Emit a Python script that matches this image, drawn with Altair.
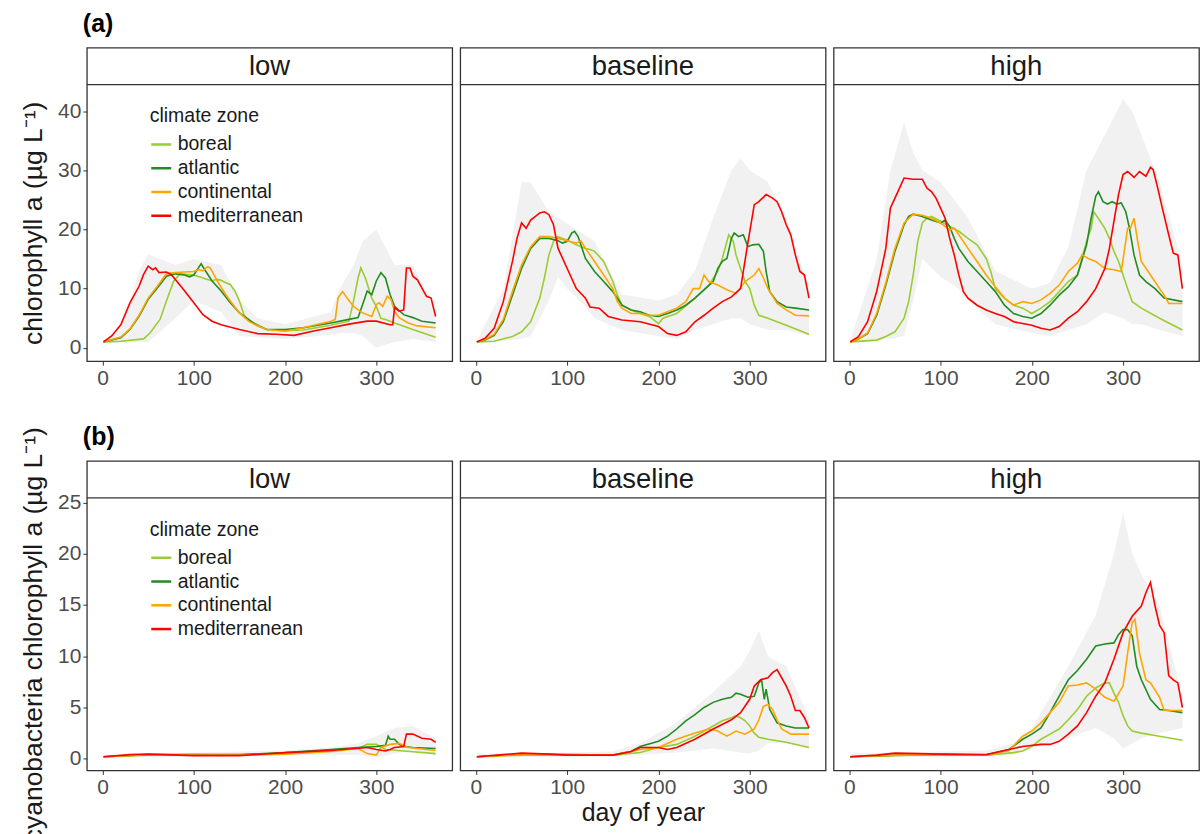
import altair as alt
import pandas as pd

FONT = "Liberation Sans"
SCENARIOS = ["low", "baseline", "high"]
ZONES = ["boreal", "atlantic", "continental", "mediterranean"]
COLORS = ["#9ACD32", "#228B22", "#FFA500", "#FF0000"]
X_TICKS = [0, 100, 200, 300]
YA_TICKS = [0, 10, 20, 30, 40]
YB_TICKS = [0, 5, 10, 15, 20, 25]
X_DOM = [-17.2, 383.2]
YA_DOM = [-2.25, 44.5]
YB_DOM = [-1.14, 25.45]

# ---------------- (a) chlorophyll a : (day, value) ----------------
A_LOW_BOR = [(1,1.0),(20,1.1),(45,1.5),(52,2.5),(63,4.8),(70,7.9),(78,11.3),(85,12.5),(100,12.3),(110,11.8),
             (120,11.3),(125,11.6),(130,11.4),(135,11.0),(140,10.7),(145,9.6),(150,7.9),(155,5.6),(160,4.5),
             (170,3.9),(180,3.1),(200,2.9),(220,3.0),(250,3.8),(270,4.5),(275,7.9),(280,11.8),(283,13.5),
             (288,11.8),(295,8.4),(300,7.0),(305,5.0),(310,4.8),(320,4.2),(340,3.1),(365,1.8)]
A_LOW_ATL = [(1,1.0),(20,1.7),(30,3.1),(40,5.3),(50,8.2),(60,10.1),(70,12.1),(80,12.5),(90,12.3),(95,12.0),
             (100,12.3),(105,13.5),(108,14.2),(112,13.2),(120,11.3),(130,9.6),(140,7.6),(150,5.9),(160,4.8),
             (170,3.7),(180,3.1),(200,3.1),(220,3.4),(250,4.2),(270,4.8),(280,5.1),(285,7.3),(290,9.6),
             (295,9.0),(300,11.3),(305,12.7),(310,11.8),(315,9.0),(320,7.0),(330,5.6),(340,5.1),(350,4.5),(365,4.2)]
A_LOW_CON = [(1,1.0),(20,1.8),(30,3.2),(40,5.5),(50,8.4),(60,10.4),(70,12.5),(80,12.7),(90,12.8),(100,12.9),
             (105,13.2),(110,13.0),(115,13.7),(118,13.5),(125,11.5),(130,10.2),(135,9.0),(140,7.9),(150,5.9),
             (160,4.5),(170,3.7),(180,3.1),(200,2.8),(220,3.4),(250,4.5),(255,4.8),(258,8.4),(263,9.5),
             (268,8.4),(275,7.0),(285,5.9),(295,5.3),(300,7.3),(303,7.6),(307,7.0),(312,8.7),(316,8.2),
             (320,6.2),(325,5.1),(335,4.2),(345,3.7),(365,3.4)]
A_LOW_MED = [(1,1.0),(10,2.0),(20,3.9),(30,7.6),(40,10.4),(45,12.4),(50,13.8),(55,13.2),(58,13.5),(62,12.7),
             (70,12.8),(75,12.4),(80,11.5),(90,9.6),(100,7.6),(110,5.6),(120,4.5),(130,3.9),(150,3.1),
             (170,2.4),(190,2.3),(210,2.1),(230,2.8),(250,3.4),(270,4.0),(290,4.5),(300,4.5),(315,3.9),
             (318,3.9),(320,6.8),(325,6.2),(330,6.4),(333,13.5),(337,13.5),(340,12.1),(345,11.5),(350,10.1),
             (355,8.7),(360,8.4),(365,5.3)]
A_LOW_ENV = [(1,0.8,1.2),(20,0.9,3),(40,1,13),(50,1,15.8),(80,5,14),(100,8,15),(130,6,14),(150,2,8),
             (170,1.8,5),(200,1.5,4),(250,2.2,6),(260,2.5,10),(275,2.5,14),(285,2,18),(300,0,20),
             (310,0.5,17),(320,1,14),(340,1.5,14),(365,1,6)]

A_BAS_BOR = [(1,1.0),(20,1.1),(40,1.9),(50,2.7),(60,4.4),(70,8.4),(75,11.8),(80,15.7),(85,18.0),(90,18.8),
             (100,18.2),(110,17.4),(120,16.8),(125,16.6),(130,16.3),(140,14.6),(150,11.2),(155,8.9),(160,7.2),
             (170,6.4),(180,5.8),(190,5.3),(200,4.1),(205,5.0),(220,5.8),(240,8.4),(255,10.6),(265,12.9),
             (270,15.1),(277,19.1),(282,18.0),(285,15.7),(290,13.4),(295,11.2),(300,10.0),(305,7.2),(310,5.5),
             (320,5.0),(340,3.8),(365,2.3)]
A_BAS_ATL = [(1,1.0),(10,1.3),(20,2.1),(30,4.4),(40,8.9),(50,13.4),(60,16.8),(70,18.5),(80,18.5),(90,18.1),
             (95,17.7),(100,18.0),(105,19.4),(108,19.7),(112,18.8),(115,17.4),(120,15.1),(130,12.9),(140,11.2),
             (150,9.5),(160,7.2),(170,6.4),(180,6.1),(190,5.5),(200,5.3),(210,5.8),(220,6.4),(230,7.2),
             (240,8.4),(250,9.8),(260,11.2),(265,13.4),(270,14.6),(275,15.1),(280,18.5),(283,19.4),(288,18.8),
             (293,19.1),(298,17.1),(303,17.4),(310,17.5),(315,16.3),(318,12.9),(322,9.5),(330,7.8),(340,6.9),
             (350,6.7),(365,6.4)]
A_BAS_CON = [(1,1.0),(10,1.4),(20,2.3),(30,4.8),(40,9.5),(50,14.0),(60,17.1),(70,18.8),(80,18.8),(90,18.5),
             (100,18.1),(110,17.7),(115,18.1),(120,16.8),(130,14.6),(140,12.3),(150,10.0),(155,7.8),(160,6.7),
             (170,5.8),(180,5.8),(190,5.5),(200,5.5),(210,6.1),(220,6.7),(230,7.8),(238,10.0),(245,10.0),
             (250,12.3),(255,11.2),(265,10.6),(275,9.8),(285,9.2),(295,11.2),(305,12.3),(310,13.4),(315,11.8),
             (320,10.0),(330,7.5),(340,6.4),(350,5.5),(365,5.4)]
A_BAS_MED = [(1,1.0),(10,1.6),(20,3.3),(30,7.8),(40,14.6),(45,18.5),(50,21.1),(55,20.2),(60,21.6),(70,22.8),
             (75,23.0),(80,22.5),(85,20.8),(90,16.8),(100,13.4),(110,10.0),(120,8.4),(125,6.9),(135,6.7),
             (145,5.3),(160,4.7),(180,4.4),(200,3.6),(210,2.4),(220,2.1),(230,2.7),(240,4.4),(250,5.5),
             (260,6.7),(270,7.8),(280,8.6),(290,10.0),(297,16.8),(302,21.4),(305,24.2),(310,24.7),(318,25.9),
             (325,25.3),(330,24.7),(335,23.0),(340,20.8),(345,19.1),(350,15.7),(355,12.9),(360,12.3),(365,8.4)]
A_BAS_ENV = [(1,0.8,1.2),(30,1.2,10),(50,1.5,28),(60,2,28),(80,8,23),(90,12,22),(100,10,21),(120,7,19),
             (130,5,18),(160,3,9),(200,2,8),(220,1.5,9),(240,3,13),(260,4,22),(280,5,30),(290,5,32),
             (300,4,30),(320,3,28),(340,3,22),(365,2,10)]

A_HIG_BOR = [(1,1.0),(30,1.3),(40,1.9),(50,2.7),(60,5.0),(65,7.8),(70,12.3),(75,18.0),(80,21.1),(85,21.9),
             (90,22.2),(100,21.4),(110,20.5),(120,19.7),(130,18.5),(140,17.4),(150,15.1),(155,12.9),(160,10.0),
             (170,8.4),(180,7.2),(190,6.7),(200,5.8),(210,6.7),(220,7.8),(240,11.2),(250,12.3),(260,18.0),
             (265,20.2),(268,23.0),(275,21.4),(280,20.2),(285,18.5),(290,16.3),(295,14.6),(300,12.3),(305,10.0),
             (310,7.8),(320,6.7),(340,5.0),(365,3.0)]
A_HIG_ATL = [(1,1.0),(10,1.5),(20,2.4),(30,5.5),(40,10.6),(50,16.3),(60,20.8),(65,22.2),(70,22.6),(80,22.2),
             (90,21.6),(100,21.1),(105,21.6),(110,20.5),(115,18.5),(120,16.8),(130,14.6),(140,12.9),(150,11.2),
             (160,9.5),(170,7.2),(180,5.8),(190,5.3),(200,5.0),(210,5.8),(220,7.2),(230,8.9),(240,10.3),
             (250,12.3),(260,17.4),(265,21.9),(270,25.6),(273,26.4),(278,24.7),(283,24.3),(288,24.7),(293,24.3),
             (298,24.5),(303,23.0),(307,20.2),(312,15.7),(318,12.3),(325,11.2),(335,10.0),(345,8.4),(365,7.8)]
A_HIG_CON = [(1,1.0),(10,1.5),(20,2.5),(30,5.8),(40,11.0),(50,16.8),(60,21.1),(70,22.6),(80,22.4),(90,21.9),
             (100,21.1),(110,19.9),(115,20.2),(120,19.1),(130,16.8),(140,14.6),(150,12.3),(160,10.3),(170,8.4),
             (180,7.2),(190,7.8),(200,7.5),(210,8.1),(220,9.2),(230,10.6),(240,12.9),(250,14.3),(255,15.7),
             (262,15.1),(270,14.6),(280,13.4),(290,13.2),(298,12.9),(305,20.2),(308,20.2),(312,21.9),(316,18.0),
             (320,14.6),(330,12.3),(340,10.0),(345,8.9),(350,7.5),(365,7.5)]
A_HIG_MED = [(1,1.0),(10,1.9),(20,4.4),(30,9.5),(40,16.8),(45,23.6),(50,25.3),(55,27.0),(60,28.7),(70,28.5),
             (80,28.5),(85,27.0),(90,26.4),(95,25.3),(100,23.6),(105,21.9),(110,18.5),(115,15.7),(120,12.3),
             (125,9.5),(130,8.4),(140,7.2),(150,6.4),(160,5.8),(170,5.3),(180,4.4),(190,4.1),(200,3.8),
             (210,3.3),(220,3.0),(230,3.6),(240,5.0),(250,6.1),(260,7.8),(270,10.0),(280,13.4),(285,16.8),
             (290,21.4),(295,25.9),(300,29.3),(305,29.8),(312,28.8),(318,29.8),(325,29.0),(330,30.5),(333,30.1),
             (338,27.0),(343,23.6),(350,19.1),(355,16.0),(360,15.7),(365,10.0)]
A_HIG_ENV = [(1,0.8,1.2),(30,1.2,15),(45,1.5,30),(60,2,38),(70,8,33),(80,15,30),(100,12,28),(120,10,24),
             (130,8,22),(160,4,13),(200,2.5,10),(220,2,11),(240,3,17),(260,4,30),(280,6,36),(300,5,42),
             (310,4,40),(320,4,36),(340,3,28),(365,2,14)]

# ---------------- (b) cyanobacteria chlorophyll a ----------------
B_LOW_BOR = [(1,0.2),(50,0.35),(100,0.4),(150,0.35),(200,0.5),(250,0.8),(280,1.0),(290,1.4),(300,1.4),
             (310,0.9),(330,0.75),(365,0.5)]
B_LOW_ATL = [(1,0.2),(50,0.4),(100,0.4),(150,0.4),(200,0.6),(250,0.9),(280,1.1),(300,1.2),(310,1.3),
             (313,2.2),(315,1.9),(320,1.9),(325,1.4),(330,1.2),(340,1.1),(365,1.0)]
B_LOW_CON = [(1,0.2),(50,0.4),(100,0.35),(150,0.35),(200,0.45),(250,0.7),(280,1.0),(290,0.5),(300,0.35),
             (305,1.1),(315,1.4),(325,1.5),(335,1.1),(365,0.8)]
B_LOW_MED = [(1,0.2),(30,0.4),(50,0.45),(100,0.3),(150,0.3),(200,0.6),(250,0.8),(290,1.1),(300,0.9),
             (310,0.75),(315,0.9),(320,1.1),(330,1.2),(333,2.4),(340,2.4),(350,2.0),(360,1.9),(365,1.6)]
B_LOW_ENV = [(1,0.1,0.4),(100,0.2,0.6),(200,0.3,0.8),(250,0.4,1.1),(280,0.4,1.5),(300,0.1,2.2),
             (320,0.5,3.0),(340,0.8,3.2),(365,0.3,2.0)]

B_BAS_BOR = [(1,0.2),(50,0.35),(100,0.4),(150,0.35),(180,0.6),(200,1.1),(220,1.4),(240,2.2),(260,3.2),
             (270,3.7),(280,4.0),(285,4.2),(290,4.0),(295,3.7),(300,3.2),(305,2.5),(310,2.1),(320,1.9),
             (340,1.6),(365,1.1)]
B_BAS_ATL = [(1,0.2),(50,0.45),(100,0.4),(150,0.35),(170,0.7),(180,1.2),(200,1.7),(210,2.2),(220,2.9),
             (230,3.7),(240,4.3),(250,5.0),(260,5.5),(270,5.8),(280,6.0),(285,6.4),(290,6.3),(298,6.0),
             (305,6.1),(310,7.4),(313,7.7),(316,5.8),(318,6.8),(322,4.8),(330,3.5),(340,3.2),(350,3.0),(365,3.0)]
B_BAS_CON = [(1,0.2),(50,0.4),(100,0.35),(150,0.35),(180,0.9),(200,1.1),(220,1.9),(240,2.5),(255,2.9),
             (265,2.7),(275,2.2),(285,2.7),(295,2.4),(305,2.9),(310,3.8),(315,5.1),(320,5.3),(325,4.8),
             (330,3.8),(335,2.9),(345,2.4),(365,2.4)]
B_BAS_MED = [(1,0.2),(30,0.4),(50,0.55),(80,0.45),(100,0.35),(150,0.35),(170,0.7),(180,1.1),(200,1.1),
             (210,0.9),(220,1.1),(240,1.9),(260,2.9),(280,3.8),(290,4.5),(300,5.8),(305,7.1),(312,7.7),
             (320,7.9),(325,8.4),(330,8.7),(335,7.9),(340,7.1),(345,6.1),(350,4.7),(355,4.7),(360,4.0),(365,3.0)]
B_BAS_ENV = [(1,0.1,0.5),(100,0.2,0.6),(150,0.2,0.7),(180,0.4,1.5),(220,0.6,3.5),(260,1.0,6.5),
             (290,0.6,9.0),(300,0.5,10.5),(310,0.8,12.5),(320,1.5,10.0),(340,1.5,9.0),(365,1.0,4.0)]

B_HIG_BOR = [(1,0.2),(50,0.3),(100,0.45),(150,0.35),(180,0.6),(190,0.75),(200,1.2),(210,1.9),(220,2.4),
             (230,2.9),(240,3.8),(250,4.8),(260,6.1),(270,6.9),(280,7.4),(285,7.4),(290,6.4),(295,5.5),
             (300,4.2),(305,3.2),(310,2.7),(320,2.5),(340,2.2),(365,1.8)]
B_HIG_ATL = [(1,0.2),(50,0.35),(100,0.4),(150,0.35),(175,0.9),(190,1.9),(200,2.4),(210,3.0),(220,4.5),
             (230,6.1),(240,7.7),(250,8.6),(260,9.7),(270,11.0),(280,11.2),(290,11.3),(295,12.1),(300,12.6),
             (305,12.6),(310,12.0),(315,9.0),(320,7.7),(330,5.8),(340,4.8),(350,4.7),(365,4.5)]
B_HIG_CON = [(1,0.2),(50,0.35),(100,0.4),(150,0.35),(175,0.8),(190,2.2),(200,2.7),(210,3.5),(220,4.5),
             (230,5.5),(240,7.1),(250,7.2),(260,7.4),(270,6.8),(280,6.0),(290,5.6),(300,7.1),(305,10.3),
             (310,13.3),(313,13.6),(318,10.3),(325,7.7),(330,7.4),(340,6.0),(345,4.7),(365,4.7)]
B_HIG_MED = [(1,0.2),(30,0.35),(50,0.55),(100,0.45),(150,0.4),(170,0.8),(190,1.2),(210,1.4),(220,1.4),
             (230,1.7),(240,2.4),(250,3.2),(260,4.5),(270,6.1),(280,7.4),(290,9.7),(300,12.3),(310,13.9),
             (315,14.4),(320,14.9),(325,16.2),(330,17.2),(335,14.9),(340,13.0),(345,12.3),(350,8.1),
             (355,7.7),(360,7.4),(365,5.0)]
B_HIG_ENV = [(1,0.1,0.5),(100,0.2,0.7),(150,0.2,0.8),(180,0.4,1.5),(200,1.0,3.0),(240,2.0,9.0),
             (270,3.0,14.0),(290,2.0,20.0),(300,1.0,24.0),(310,1.5,20.0),(320,2.0,18.0),(340,2.5,15.0),
             (365,3.0,6.0)]

PANELS = {
    ("a", "low"): ([A_LOW_BOR, A_LOW_ATL, A_LOW_CON, A_LOW_MED], A_LOW_ENV),
    ("a", "baseline"): ([A_BAS_BOR, A_BAS_ATL, A_BAS_CON, A_BAS_MED], A_BAS_ENV),
    ("a", "high"): ([A_HIG_BOR, A_HIG_ATL, A_HIG_CON, A_HIG_MED], A_HIG_ENV),
    ("b", "low"): ([B_LOW_BOR, B_LOW_ATL, B_LOW_CON, B_LOW_MED], B_LOW_ENV),
    ("b", "baseline"): ([B_BAS_BOR, B_BAS_ATL, B_BAS_CON, B_BAS_MED], B_BAS_ENV),
    ("b", "high"): ([B_HIG_BOR, B_HIG_ATL, B_HIG_CON, B_HIG_MED], B_HIG_ENV),
}

W = 366
STRIP_H = 37
PLOT_H = {"a": 277, "b": 273}
Y_DOM = {"a": YA_DOM, "b": YB_DOM}
Y_TICKS = {"a": YA_TICKS, "b": YB_TICKS}
Y_TITLE = {"a": "chlorophyll a (µg L⁻¹)", "b": "cyanobacteria chlorophyll a (µg L⁻¹)"}


def panel(row, scen):
    lines, env = PANELS[(row, scen)]
    total_h = STRIP_H + PLOT_H[row]
    ldf = pd.DataFrame([
        {"day": d, "value": v, "zone": z}
        for z, pts in zip(ZONES, lines) for d, v in pts
    ])
    edf = pd.DataFrame(env, columns=["day", "lo", "hi"])
    xax = alt.Axis(values=X_TICKS, labelFontSize=21, labelColor="#4D4D4D", tickColor="#333333",
                   tickSize=4, labelPadding=2, domain=False, grid=False, labelFont=FONT,
                   title=("day of year" if (row == "b" and scen == "baseline") else None),
                   titleFontSize=25, titleFontWeight="normal", titleFont=FONT, titleColor="#1A1A1A",
                   titlePadding=3)
    if scen == "low":
        yax = alt.Axis(values=Y_TICKS[row], labelFontSize=21, labelColor="#4D4D4D", tickColor="#333333",
                       tickSize=4, labelPadding=2, domain=False, grid=False, labelFont=FONT,
                       title=Y_TITLE[row], titleFontSize=26.5, titleFontWeight="normal", titleFont=FONT,
                       titleColor="#1A1A1A", titlePadding=10)
    else:
        yax = None
    xs = alt.Scale(domain=X_DOM, nice=False, zero=False)
    # plot region sits below the strip: pixel range from panel bottom up to strip bottom
    ys = alt.Scale(domain=Y_DOM[row], nice=False, zero=False, range=[total_h, STRIP_H])
    area = alt.Chart(edf).mark_area(color="#BDBDBD", opacity=0.22).encode(
        x=alt.X("day:Q", scale=xs, axis=xax),
        y=alt.Y("hi:Q", scale=ys, axis=yax),
        y2="lo:Q",
    )
    legend = None
    if scen == "low":
        legend = alt.Legend(title="climate zone", orient="none", legendX=63, legendY=STRIP_H + 23,
                            titleFontSize=19.5, titleFontWeight="normal", titleFont=FONT,
                            titleColor="#1A1A1A", labelFontSize=19.5, labelFont=FONT,
                            labelColor="#1A1A1A", symbolType="stroke", symbolStrokeWidth=2.5,
                            symbolSize=400, rowPadding=2.8, titlePadding=6, labelOffset=5)
    ln = alt.Chart(ldf).mark_line(strokeWidth=1.6).encode(
        x=alt.X("day:Q", scale=xs),
        y=alt.Y("value:Q", scale=ys),
        color=alt.Color("zone:N", scale=alt.Scale(domain=ZONES, range=COLORS), legend=legend,
                        sort=ZONES),
        order=alt.Order("day:Q"),
    )
    sdf = pd.DataFrame({"s": [scen]})
    strip_line = alt.Chart(sdf).mark_rule(color="#333333", strokeWidth=1.3).encode(
        x=alt.value(0), x2=alt.value(W), y=alt.value(STRIP_H))
    strip_text = alt.Chart(sdf).mark_text(
        fontSize=27.5, font=FONT, color="#1A1A1A", baseline="middle", align="center"
    ).encode(text="s:N", x=alt.value(W / 2), y=alt.value(STRIP_H / 2 + 1))
    layers = [area, ln, strip_line, strip_text]
    if scen == "low":
        tag = alt.Chart(pd.DataFrame({"t": ["(" + row + ")"]})).mark_text(
            fontSize=25, fontWeight="bold", font=FONT, color="black", align="left",
            baseline="alphabetic"
        ).encode(text="t:N", x=alt.value(-4), y=alt.value(-16))
        layers.append(tag)
    return alt.layer(*layers).properties(width=W, height=total_h)


panels = [panel(r, s) for r in ["a", "b"] for s in SCENARIOS]

chart = alt.concat(
    *panels, columns=3, spacing={"row": 100, "column": 8}, bounds="flush"
).resolve_scale(
    color="independent", y="independent", x="independent"
).properties(
    padding={"left": 19, "top": 10, "right": 0, "bottom": 0},
    background="white",
).configure(font=FONT).configure_view(
    stroke="#333333", strokeWidth=1.3
)

chart.save("out.html", embed_options={"renderer": "svg", "actions": False})
